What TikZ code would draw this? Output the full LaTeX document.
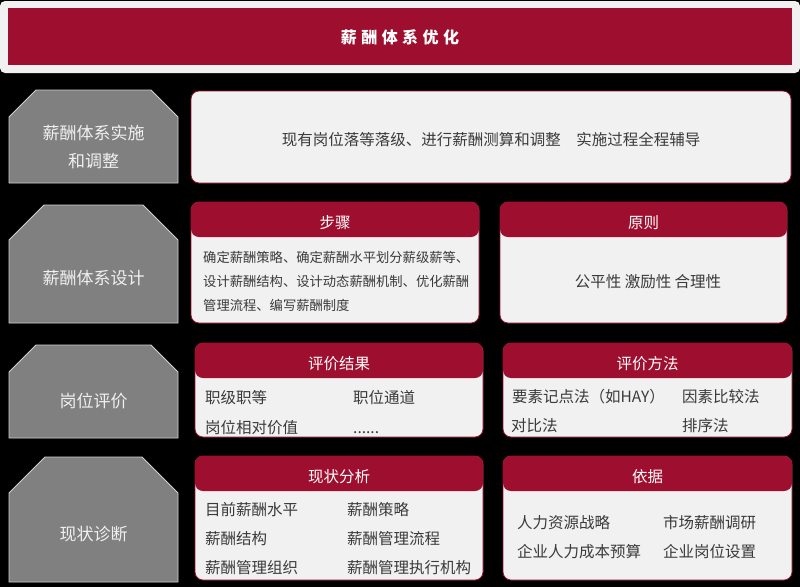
\documentclass[tikz,border=0pt]{standalone}
\usepackage{fontspec}
\setmainfont{Noto Sans CJK SC}
\newfontfamily\titlefont[LetterSpace=28]{Noto Sans CJK SC}
\usetikzlibrary{positioning}
\definecolor{crimson}{HTML}{9E0F2F}
\definecolor{panelgray}{HTML}{F1F1F2}
\definecolor{stagegray}{HTML}{808080}
\definecolor{stageedge}{HTML}{D2D2D2}
\definecolor{textdark}{HTML}{3A3A3A}
\tikzstyle{stage}=[draw=stageedge,fill=stagegray,line width=0.9pt]
\tikzstyle{stagelabel}=[text=white!94!black,font=\fontsize{17}{28}\selectfont,align=center]
\tikzstyle{panel}=[draw=crimson,fill=panelgray,rounded corners=8pt,line width=0.8pt,inner sep=0pt]
\tikzstyle{headlabel}=[text=white,font=\fontsize{15.5}{18}\selectfont,inner sep=0pt]
\tikzstyle{item}=[text=textdark,font=\fontsize{15.5}{18}\selectfont,anchor=base west,inner sep=0pt]

\begin{document}
\begin{tikzpicture}[x=1pt,y=-1pt]

    % background and title bar
    \fill[black] (0,0) rectangle (800,587);
    \fill[panelgray,rounded corners=5pt] (0,1) rectangle (800,73);
    \fill[crimson] (8,8) rectangle (792,65);
    \node[text=white,font=\fontsize{16}{18}\selectfont\titlefont\bfseries] (title) at (400,37) {薪酬体系优化};

    % left stages, chamfered on top
    \foreach \ya/\yc/\yb/\name/\label in {90/117/183/impl/{薪酬体系实施\\和调整}, 205/240/323/design/薪酬体系设计, 345/372/438/eval/岗位评价, 457/493/582/diag/现状诊断}
    {
        \pgfmathsetmacro\c{\yc-\ya}
        \draw[stage] (9,\yb) -- (9,\yc) -- (9+\c,\ya) -- (178-\c,\ya) -- (178,\yc) -- (178,\yb) -- cycle;
        \node[stagelabel] (\name) at (93.5,{(\yc+\yb)/2-3.5}) {\label};
    }

    % first row: one wide panel
    \node[panel,minimum width=600pt,minimum height=92pt] (impl-box) at (491,137) {};
    \node[item,anchor=center] (impl-text) at (491,140) {现有岗位落等落级、进行薪酬测算和调整\quad 实施过程全程辅导};

    % panels with a red header
    \foreach \cx/\cy/\w/\h/\name/\head in {335/262.5/288/121/steps/步骤, 643.5/262.5/287/121/rules/原则, 339/390/288/94/results/评价结果, 647.5/390/289/94/methods/评价方法, 339/518/288/124/status/现状分析, 647.5/518/289/124/basis/依据}
    {
        \node[panel,minimum width=\w pt,minimum height=\h pt,
              path picture={\fill[crimson] (path picture bounding box.north west) rectangle ([yshift=-35pt]path picture bounding box.north east);}] (\name) at (\cx,\cy) {};
        \node[headlabel,below=14pt of \name.north] (\name-head) {\head};
    }

    % panel texts
    \node[item,anchor=west,align=left,font=\fontsize{13.3}{24}\selectfont] (steps-text) at (203,281)
        {确定薪酬策略、确定薪酬水平划分薪级薪等、\\设计薪酬结构、设计动态薪酬机制、优化薪酬\\管理流程、编写薪酬制度};
    \node[item,anchor=center] (rules-text) at (648,282) {公平性 激励性 合理性};

    \foreach \pos/\name/\txt in {{(205,403.5)/r1/职级职等}, {(353,403.5)/r2/职位通道}, {(205,433.5)/r3/岗位相对价值},
                                 {(512,402.5)/m1/要素记点法（如HAY）}, {(682,402.5)/m2/因素比较法}, {(511,431.5)/m3/对比法}, {(682,431.5)/m4/排序法},
                                 {(205,515.5)/s1/目前薪酬水平}, {(347,515.5)/s2/薪酬策略}, {(205,544.5)/s3/薪酬结构}, {(347,544.5)/s4/薪酬管理流程}, {(205,573.5)/s5/薪酬管理组织}, {(347,573.5)/s6/薪酬管理执行机构},
                                 {(517,528.5)/b1/人力资源战略}, {(663,528.5)/b2/市场薪酬调研}, {(517,557.5)/b3/企业人力成本预算}, {(663,557.5)/b4/企业岗位设置}}
        \node[item] (\name) at \pos {\txt};
    \node[item] (r4) at (353,433.5) {......};

\end{tikzpicture}
\end{document}
